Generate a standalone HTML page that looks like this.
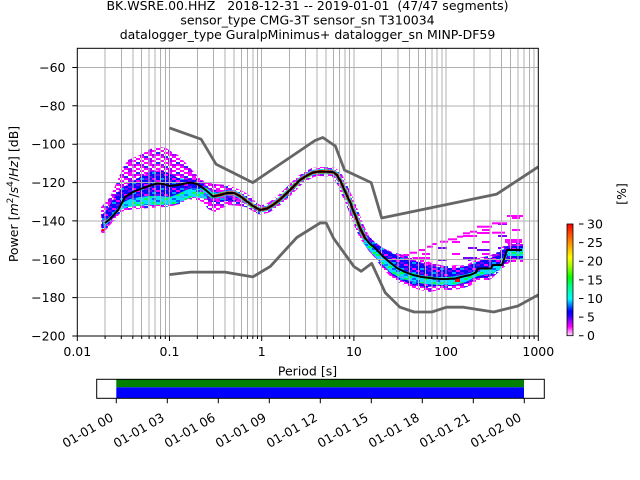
<!DOCTYPE html>
<html><head><meta charset="utf-8"><style>
html,body{margin:0;padding:0;background:#fff;}
svg{display:block;font-family:"DejaVu Sans","Liberation Sans",sans-serif;}
</style></head><body>
<svg width="640" height="480" viewBox="0 0 640 480" xmlns="http://www.w3.org/2000/svg">
<defs>
<pattern id="pS" patternUnits="userSpaceOnUse" width="20" height="10">
<rect x="0" y="0" width="4" height="2" fill="#ff00ff"/><rect x="8" y="0" width="4" height="2" fill="#a000ff"/><rect x="12" y="0" width="4" height="2" fill="#ff00ff"/>
<rect x="4" y="2" width="4" height="2" fill="#ff00ff"/><rect x="8" y="2" width="4" height="2" fill="#ff00ff"/><rect x="16" y="2" width="4" height="2" fill="#2a2aff"/>
<rect x="0" y="4" width="4" height="2" fill="#a000ff"/><rect x="8" y="4" width="4" height="2" fill="#ff00ff"/><rect x="12" y="4" width="4" height="2" fill="#a000ff"/><rect x="16" y="4" width="4" height="2" fill="#ff00ff"/>
<rect x="0" y="6" width="4" height="2" fill="#ff00ff"/><rect x="4" y="6" width="4" height="2" fill="#2a2aff"/><rect x="12" y="6" width="4" height="2" fill="#ff00ff"/>
<rect x="4" y="8" width="4" height="2" fill="#ff00ff"/><rect x="8" y="8" width="4" height="2" fill="#a000ff"/><rect x="16" y="8" width="4" height="2" fill="#ff00ff"/>
</pattern>
<pattern id="pM" patternUnits="userSpaceOnUse" width="20" height="10">
<rect x="0" y="0" width="20" height="10" fill="#0a0aff"/>
<rect x="8" y="0" width="4" height="2" fill="#7000ff"/><rect x="16" y="0" width="4" height="2" fill="#ff00ff"/>
<rect x="0" y="2" width="4" height="2" fill="#7000ff"/><rect x="12" y="2" width="4" height="2" fill="#00a0ff"/>
<rect x="4" y="4" width="4" height="2" fill="#ff00ff"/><rect x="16" y="4" width="4" height="2" fill="#7000ff"/>
<rect x="8" y="6" width="4" height="2" fill="#7000ff"/>
<rect x="0" y="8" width="4" height="2" fill="#00a0ff"/><rect x="4" y="8" width="4" height="2" fill="#7000ff"/><rect x="12" y="8" width="4" height="2" fill="#ff00ff"/>
</pattern>
<pattern id="pD" patternUnits="userSpaceOnUse" width="20" height="10">
<rect x="0" y="0" width="20" height="10" fill="#00e0ff"/>
<rect x="16" y="0" width="4" height="2" fill="#0060ff"/>
<rect x="0" y="2" width="4" height="2" fill="#00ff50"/><rect x="12" y="2" width="4" height="2" fill="#00ff50"/>
<rect x="4" y="4" width="4" height="2" fill="#0080ff"/><rect x="16" y="4" width="4" height="2" fill="#00ff50"/>
<rect x="0" y="6" width="4" height="2" fill="#40b0ff"/><rect x="8" y="6" width="4" height="2" fill="#00ff50"/>
<rect x="4" y="8" width="4" height="2" fill="#00ff50"/><rect x="12" y="8" width="4" height="2" fill="#0060ff"/>
</pattern>
<pattern id="pT" patternUnits="userSpaceOnUse" width="30" height="12">
<rect x="2" y="1" width="8" height="2" fill="#ff00ff"/><rect x="18" y="7" width="9" height="2" fill="#8000ff"/>
</pattern>
<linearGradient id="cb" x1="0" y1="1" x2="0" y2="0">
<stop offset="0" stop-color="#ffd8ff"/><stop offset="0.04" stop-color="#ff80ff"/><stop offset="0.08" stop-color="#ff00ff"/>
<stop offset="0.13" stop-color="#a000ff"/><stop offset="0.18" stop-color="#2000ff"/><stop offset="0.22" stop-color="#0000ff"/>
<stop offset="0.33" stop-color="#00ffff"/><stop offset="0.45" stop-color="#00ff80"/><stop offset="0.52" stop-color="#00ff00"/>
<stop offset="0.62" stop-color="#a0ff00"/><stop offset="0.70" stop-color="#ffff00"/><stop offset="0.83" stop-color="#ff9000"/>
<stop offset="1" stop-color="#ff0000"/>
</linearGradient>
<clipPath id="ax"><rect x="77.3" y="48.3" width="461" height="287.7"/></clipPath>
</defs>
<rect width="640" height="480" fill="#fff"/>

<g font-size="12.5" text-anchor="middle" fill="#000">
<text x="307.5" y="10" xml:space="preserve">BK.WSRE.00.HHZ   2018-12-31 -- 2019-01-01  (47/47 segments)</text>
<text x="307.5" y="24.5">sensor_type CMG-3T sensor_sn T310034</text>
<text x="307.5" y="39">datalogger_type GuralpMinimus+ datalogger_sn MINP-DF59</text>
</g>

<g clip-path="url(#ax)">
<polygon fill="url(#pS)" points="101,207 105,203 110,197 116,184 123,167 128,160 135,157 142,154 148,150 153,148 160,147 166,148 172,152 178,155 185,162 193,171 198,176 205,182 215,184 228,185 238,189 246,193 253,198 256,203 250,208 240,206 228,205 221,209 215,212 208,209 203,202 195,200 188,199 180,204 172,206 165,207 150,208 138,209 128,210 121,212 115,220 110,225 106,230 103,233 101,233"/>
<polygon fill="url(#pM)" points="102,215 108,208 114,198 120,189 130,183 140,177 150,172 160,170 170,174 178,178 186,179 195,178 203,182 210,189 218,190 230,190 240,194 248,199 248,204 240,202 228,201 218,202 210,202 203,196 195,195 185,193 175,199 165,201 150,202 135,203 124,206 118,212 112,220 107,226 102,229"/>
<polygon fill="url(#pD)" points="103,222 110,217 116,210 122,203 130,199 140,197 150,196 160,196 170,197 178,194 186,190 193,188 200,189 207,193 207,199 200,198 193,197 185,200 175,204 165,205 150,205 138,206 128,207 120,210 114,216 108,223 104,228"/>
<rect x="101.5" y="229" width="3.5" height="2" fill="#ff0000"/>
<rect x="101.5" y="231" width="3.5" height="2" fill="#ff00ff"/>

<polygon fill="url(#pT)" points="385,258 403,254 427,246 450,239 470,233 493,223 510,215 524,214 524,243 508,243 496,253 478,258 456,266 432,263 400,256"/>
<polygon fill="url(#pS)" points="353,205 358,215 363,227 368,235 375,242 383,248 392,252 400,254 410,257 420,258 432,263 445,266 456,266 466,265 472,262 478,258 488,256 496,253 502,247 508,243 523,243 523,262 510,262 503,268 490,280 478,280 470,286 460,289 450,290 440,290 430,292 420,290 410,287 400,283 390,276 382,268 375,258 368,250 362,240 357,230 352,218"/>
<polygon fill="url(#pM)" points="356,212 361,224 366,233 373,241 381,247 390,252 400,257 410,260 420,262 432,266 445,268 456,268 466,267 472,264 478,261 488,259 496,256 502,250 508,246 523,246 523,259 510,259 503,265 490,277 478,278 468,283 458,285 448,286 438,286 428,287 418,286 408,283 398,279 389,272 381,264 374,255 367,247 361,237 357,226"/>
<polygon fill="url(#pD)" points="366,238 375,247 385,257 395,265 405,271 420,275 435,277 450,277 462,275 470,273 478,271 490,267 500,264 507,249 523,249 523,256 507,256 500,270 490,274 478,276 466,282 455,285 440,285 425,284 410,281 400,278 390,272 380,262 370,251 363,243"/>
<rect x="455" y="278" width="5" height="4" fill="#ff0000"/>
<g fill="#ff00ff">
<rect x="403" y="254" width="6" height="2"/><rect x="410" y="251.7" width="7" height="2"/><rect x="418" y="249" width="7" height="2"/>
<rect x="427" y="245.7" width="6" height="2"/><rect x="432" y="243" width="5" height="2"/><rect x="440" y="240.7" width="8" height="2"/>
<rect x="448" y="238.3" width="9" height="2"/><rect x="457" y="235.7" width="6" height="2"/><rect x="463" y="232.3" width="7" height="2"/>
<rect x="470" y="230.7" width="7" height="2"/><rect x="477" y="225.7" width="15" height="2"/><rect x="492" y="222.3" width="15" height="2"/>
<rect x="507" y="215" width="16" height="2"/><rect x="477" y="232" width="13" height="2"/><rect x="492" y="231.7" width="13" height="2"/>
<rect x="505" y="239" width="17" height="4"/><rect x="463" y="235" width="14" height="2"/><rect x="413" y="257" width="17" height="2"/>
</g>
<g fill="#7000ff">
<rect x="477" y="249" width="13" height="2"/><rect x="463" y="257" width="14" height="2"/>
</g>

<g fill="none" stroke-linejoin="round" stroke-linecap="round">
<polyline stroke="url(#pS)" stroke-width="9" points="205,190 208,192 213,196.5 220,195 227,193 234,193 240,196 247,201.5 253,206 260,210 267,208.5 273,205 280,199.5 287,193 293,187 300,180 307,175.5 313,172.5 320,171.5 333,172 337,175 341,182 346,193.5 350,202 353,210 357,220 360,228 365,238"/>
<polyline stroke="url(#pD)" stroke-width="5" points="205,190 208,192 213,196.5 220,195 227,193 234,193 240,196 247,201.5 253,206 260,210 267,208.5 273,205 280,199.5 287,193 293,187 300,180 307,175.5 313,172.5 320,171.5 333,172 337,175 341,182 346,193.5 350,202 353,210 357,220 360,228 365,238"/>
<polyline stroke="#ff2a00" stroke-width="3.2" points="215,196 220,195 227,193 234,193 240,196 247,201.5 253,206 260,210 267,208.5 273,205 280,199.5 287,193 293,187 300,180 307,175.5 313,172.5 320,171.5 333,172 337,175 341,182 346,193.5 350,202 353,210 357,220 360,228 365,238"/>
</g>
</g>

<path fill="none" stroke="#b0b0b0" stroke-width="1" shape-rendering="crispEdges" d="M105.1 48.3V336M121.3 48.3V336M132.8 48.3V336M141.7 48.3V336M149.1 48.3V336M155.2 48.3V336M160.6 48.3V336M165.3 48.3V336M169.5 48.3V336M197.3 48.3V336M213.5 48.3V336M225 48.3V336M233.9 48.3V336M241.3 48.3V336M247.4 48.3V336M252.8 48.3V336M257.5 48.3V336M261.7 48.3V336M289.5 48.3V336M305.7 48.3V336M317.2 48.3V336M326.1 48.3V336M333.5 48.3V336M339.6 48.3V336M345 48.3V336M349.7 48.3V336M353.9 48.3V336M381.7 48.3V336M397.9 48.3V336M409.4 48.3V336M418.3 48.3V336M425.7 48.3V336M431.8 48.3V336M437.2 48.3V336M441.9 48.3V336M446.1 48.3V336M473.9 48.3V336M490.1 48.3V336M501.6 48.3V336M510.5 48.3V336M517.9 48.3V336M524 48.3V336M529.4 48.3V336M534.1 48.3V336M77.3 67.5H538.3M77.3 105.8H538.3M77.3 144.2H538.3M77.3 182.6H538.3M77.3 220.9H538.3M77.3 259.3H538.3M77.3 297.6H538.3"/>

<g fill="none" stroke="#666666" stroke-width="2.8" stroke-linejoin="round" clip-path="url(#ax)">
<polyline points="169.5,127.9 201.1,139.2 216.1,164.3 252.8,182.6 315.2,140.4 322.8,137.5 335.4,146.1 344.5,170.1 371.2,182.6 381.7,218 496.8,194.1 538.3,166.8"/>
<polyline points="169.5,274.6 190.7,272.1 225,272.1 252.8,276.9 270.3,266.4 296.8,237.5 320.1,223 326.2,223 333.5,238.2 353.9,266.5 361.2,271.3 371.7,263.4 385.3,292.8 400,307.2 414.1,312 431.8,312 446.5,307.2 463.4,307.2 493.7,312 517.9,306 538.3,294.8"/>
</g>

<polyline fill="none" stroke="#000" stroke-width="2" stroke-linejoin="round" points="105,223 110,219 118,210 125,197 133,192 143,188 150,185.5 157,183.5 163,184 170,186 178,185 185,183.5 191,182.5 197,184 203,188 208,192 213,196.5 220,195 227,193 234,193 240,196 247,201.5 253,206 260,210 267,208.5 273,205 280,199.5 287,193 293,187 300,180 307,175.5 313,172.5 320,171.5 333,172 337,175 341,182 346,193.5 350,202 353,210 357,220 360,228 365,238 370,244 375,248 383,256.5 390,262.5 397,268 405,272 413,275 422,277 430,278 440,279 447,279 455,278.5 463,276.5 470,275 476,272.5 478,268.5 491,268.5 493,265 502,265 507,250 522,250"/>

<rect x="77.3" y="48.3" width="461" height="287.7" fill="none" stroke="#000" stroke-width="1"/>

<path fill="none" stroke="#000" stroke-width="1" d="M77.3 336v5M169.5 336v5M261.7 336v5M353.9 336v5M446.1 336v5M538.3 336v5M105.1 336v3M121.3 336v3M132.8 336v3M141.7 336v3M149.1 336v3M155.2 336v3M160.6 336v3M165.3 336v3M197.3 336v3M213.5 336v3M225 336v3M233.9 336v3M241.3 336v3M247.4 336v3M252.8 336v3M257.5 336v3M289.5 336v3M305.7 336v3M317.2 336v3M326.1 336v3M333.5 336v3M339.6 336v3M345 336v3M349.7 336v3M381.7 336v3M397.9 336v3M409.4 336v3M418.3 336v3M425.7 336v3M431.8 336v3M437.2 336v3M441.9 336v3M473.9 336v3M490.1 336v3M501.6 336v3M510.5 336v3M517.9 336v3M524 336v3M529.4 336v3M534.1 336v3M72.3 67.5h5M72.3 105.8h5M72.3 144.2h5M72.3 182.6h5M72.3 220.9h5M72.3 259.3h5M72.3 297.6h5M72.3 336h5"/>

<g font-size="12.5" fill="#000">
<g text-anchor="end">
<text x="65.5" y="72">−60</text>
<text x="65.5" y="110.3">−80</text>
<text x="65.5" y="148.7">−100</text>
<text x="65.5" y="187.1">−120</text>
<text x="65.5" y="225.4">−140</text>
<text x="65.5" y="263.8">−160</text>
<text x="65.5" y="302.1">−180</text>
<text x="65.5" y="340.5">−200</text>
</g>
<g text-anchor="middle">
<text x="77.3" y="356">0.01</text>
<text x="169.5" y="356">0.1</text>
<text x="261.7" y="356">1</text>
<text x="353.9" y="356">10</text>
<text x="446.1" y="356">100</text>
<text x="538.3" y="356">1000</text>
<text x="307.5" y="375.5">Period [s]</text>
</g>
<text text-anchor="middle" transform="translate(18,194) rotate(-90)">Power [<tspan font-style="italic">m</tspan><tspan font-size="9" dy="-5">2</tspan><tspan dy="5">/</tspan><tspan font-style="italic">s</tspan><tspan font-size="9" dy="-5">4</tspan><tspan dy="5">/</tspan><tspan font-style="italic">Hz</tspan>] [dB]</text>
</g>

<rect x="567" y="224" width="6" height="111.7" fill="url(#cb)" stroke="#000" stroke-width="0.8"/>
<path fill="none" stroke="#000" stroke-width="1" d="M579 335.7h4.5M579 317.1h4.5M579 298.5h4.5M579 279.9h4.5M579 261.2h4.5M579 242.6h4.5M579 224h4.5"/>
<g font-size="12.5" fill="#000">
<text x="587" y="340.2">0</text>
<text x="587" y="321.6">5</text>
<text x="587" y="303">10</text>
<text x="587" y="284.4">15</text>
<text x="587" y="265.7">20</text>
<text x="587" y="247.1">25</text>
<text x="587" y="228.5">30</text>
<text text-anchor="middle" transform="translate(626,194) rotate(-90)">[%]</text>
</g>

<rect x="96.7" y="379.3" width="447.6" height="19" fill="#fff"/>
<rect x="116.3" y="379.3" width="407.7" height="8" fill="#008000"/>
<rect x="116.3" y="387.3" width="407.7" height="11" fill="#0000ff"/>
<rect x="96.7" y="379.3" width="447.6" height="19" fill="none" stroke="#000" stroke-width="1"/>
<path fill="none" stroke="#000" stroke-width="1" d="M116.3 398.3v5M167.3 398.3v5M218.3 398.3v5M269.3 398.3v5M320.3 398.3v5M371.3 398.3v5M422.3 398.3v5M473.3 398.3v5M524.3 398.3v5"/>
<g font-size="12.5" fill="#000" text-anchor="end">
<text transform="translate(114.3,420) rotate(-30)">01-01 00</text>
<text transform="translate(165.3,420) rotate(-30)">01-01 03</text>
<text transform="translate(216.3,420) rotate(-30)">01-01 06</text>
<text transform="translate(267.3,420) rotate(-30)">01-01 09</text>
<text transform="translate(318.3,420) rotate(-30)">01-01 12</text>
<text transform="translate(369.3,420) rotate(-30)">01-01 15</text>
<text transform="translate(420.3,420) rotate(-30)">01-01 18</text>
<text transform="translate(471.3,420) rotate(-30)">01-01 21</text>
<text transform="translate(522.3,420) rotate(-30)">01-02 00</text>
</g>
</svg>
</body></html>
